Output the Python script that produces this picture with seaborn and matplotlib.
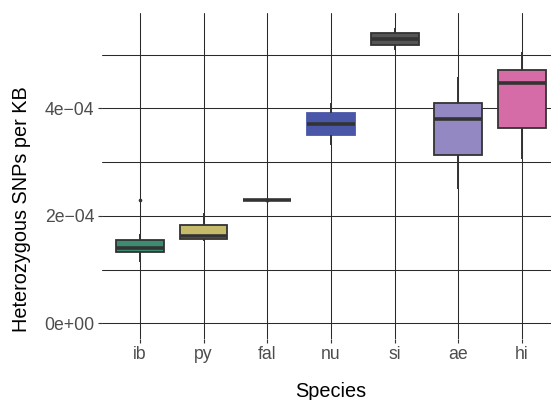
import matplotlib
matplotlib.use("Agg")
import matplotlib.pyplot as plt
import seaborn as sns
import pandas as pd
import numpy as np
from matplotlib.ticker import FixedLocator, FixedFormatter

# --- data (per species samples, chosen so the box statistics match the chart) ---
species = ["ib", "py", "fal", "nu", "si", "ae", "hi"]
ib = [1.14e-4, 1.25e-4, 1.322e-4, 1.38e-4, 1.41e-4, 1.50e-4, 1.559e-4, 1.67e-4, 2.29e-4]
py = [1.53e-4, 1.55e-4, 1.564e-4, 1.60e-4, 1.62e-4, 1.70e-4, 1.82e-4, 1.90e-4, 2.05e-4]
fal = [2.285e-4, 2.288e-4, 2.29e-4, 2.29e-4, 2.29e-4, 2.29e-4, 2.29e-4, 2.292e-4, 2.295e-4]
nu = [3.31e-4, 3.45e-4, 3.507e-4, 3.60e-4, 3.71e-4, 3.80e-4, 3.91e-4, 4.00e-4, 4.10e-4]
si = [5.08e-4, 5.13e-4, 5.177e-4, 5.25e-4, 5.294e-4, 5.35e-4, 5.406e-4, 5.45e-4, 5.49e-4]
ae = [2.49e-4, 2.90e-4, 3.134e-4, 3.50e-4, 3.80e-4, 3.95e-4, 4.09e-4, 4.30e-4, 4.575e-4]
hi = [3.05e-4, 3.40e-4, 3.626e-4, 4.10e-4, 4.48e-4, 4.60e-4, 4.71e-4, 4.90e-4, 5.04e-4]
colors = ["#3b8d72", "#c6bb6b", "#5a5a5a", "#4a57a8", "#555555", "#9488c2", "#d56ca8"]
ytick_vals = [0, 2e-4, 4e-4]
ytick_labels = ["0e+00", "2e\u221204", "4e\u221204"]
yminor_vals = [1e-4, 3e-4, 5e-4]

samples = [ib, py, fal, nu, si, ae, hi]
df = pd.DataFrame({
    "Species": np.repeat(species, [len(s) for s in samples]),
    "value": np.concatenate(samples),
})

sns.set_theme(style="white")
plt.rcParams["font.family"] = ["Liberation Sans", "DejaVu Sans"]

fig = plt.figure(figsize=(5.51, 4.00), dpi=100)
W, H = 551, 400
ax = fig.add_axes([101.7 / W, 1 - 339 / H, 458.5 / W, (339 - 13) / H])

grid_c = "#2a2a2a"
for v in ytick_vals + yminor_vals:
    ax.axhline(v, color=grid_c, lw=0.75, zorder=0)
for i in range(len(species)):
    ax.axvline(i, color=grid_c, lw=0.75, zorder=0)

sns.boxplot(
    data=df, x="Species", y="value", hue="Species", order=species,
    palette=dict(zip(species, colors)), legend=False, width=0.75,
    linecolor="#333333", linewidth=1.3, showcaps=False, saturation=1,
    medianprops=dict(linewidth=2.6, color="#333333"),
    whiskerprops=dict(linewidth=1.4, color="#333333"),
    flierprops=dict(marker="o", markersize=1.6, markerfacecolor="#333333",
                    markeredgecolor="#333333"),
    ax=ax, zorder=2,
)
# nu box has no visible outline in the reference
for p in ax.patches:
    fc = p.get_facecolor()
    if np.allclose(fc[:3], matplotlib.colors.to_rgb("#4a57a8"), atol=0.02):
        p.set_edgecolor("#4a57a8")

ax.set_xlim(-0.6, 6.6)
ax.set_ylim(-0.292e-4, 5.773e-4)
ax.yaxis.set_major_locator(FixedLocator(ytick_vals))
ax.yaxis.set_major_formatter(FixedFormatter(ytick_labels))
for s in ax.spines.values():
    s.set_visible(False)
ax.tick_params(axis="both", which="major", length=3, width=0.8, color="#333333",
               labelcolor="#4d4d4d", labelsize=12.7, pad=2.3, left=True, bottom=True)
ax.set_xlabel("Species", fontsize=14.3, color="black")
ax.set_ylabel("Heterozygous SNPs per KB", fontsize=14.3, color="black")
ax.xaxis.set_label_coords(0.5, -(382 - 339) / 326)
ax.yaxis.set_label_coords(-(101.7 - 31) / 458.5, (339 - 209) / 326)
ax.set_facecolor("white")

fig.savefig("out.png", dpi=100)
